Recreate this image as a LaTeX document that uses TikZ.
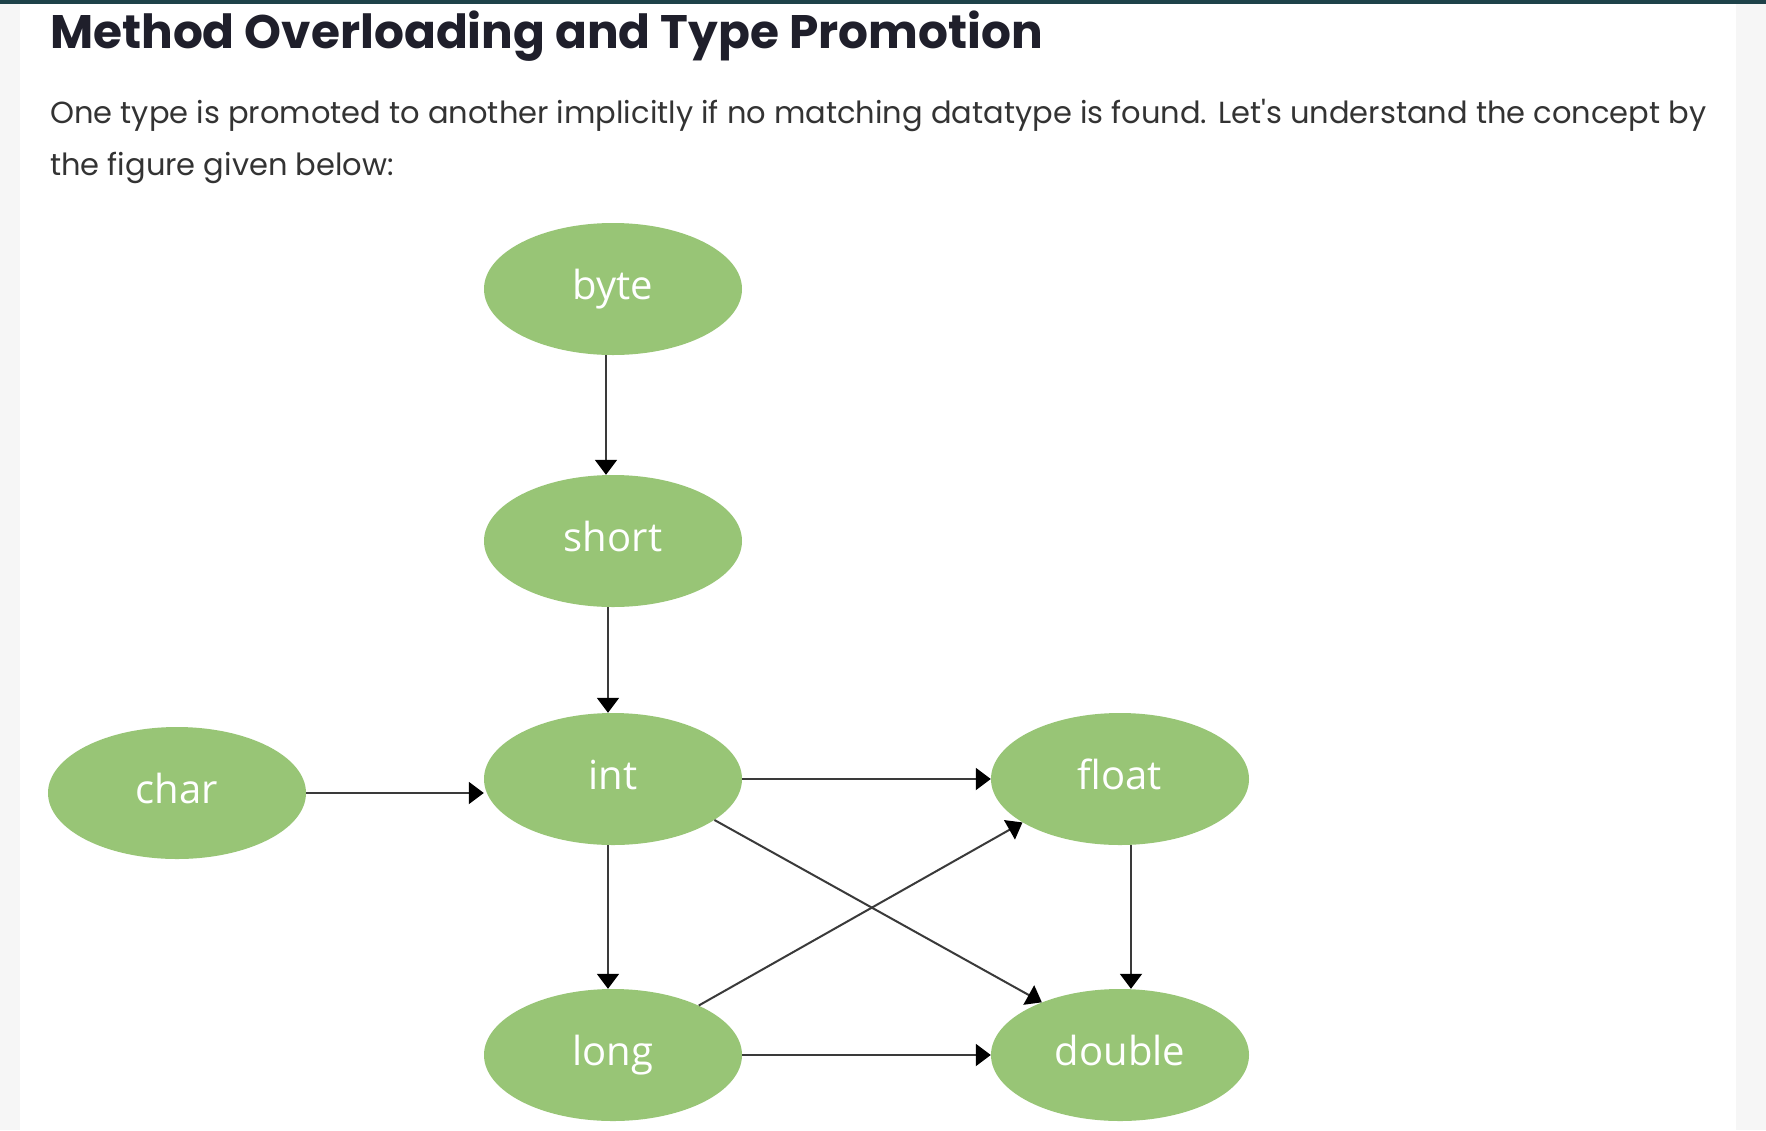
\documentclass[tikz,border=0pt]{standalone}
\usepackage{fontspec}
\setmainfont{Poppins}
\newfontfamily\diagfont{Open Sans}
\usepackage{xcolor}
\usetikzlibrary{arrows.meta,shapes.geometric}
\definecolor{typegreen}{HTML}{98C576}
\definecolor{linegray}{HTML}{3A3A3A}
\definecolor{titleink}{HTML}{1F1F2B}
\definecolor{bodyink}{HTML}{333333}
\definecolor{pagegray}{HTML}{F6F6F6}
\definecolor{barteal}{HTML}{1E4249}
\newcommand{\straightquote}{{\XeTeXglyph\XeTeXcharglyph"27}}
\tikzset{
  typenode/.style={ellipse, fill=typegreen, text=white, minimum width=258pt,
    minimum height=132pt, inner sep=0pt, text height=30pt, text depth=10pt,
    font=\diagfont\fontsize{40}{44}\selectfont},
  arr/.style={-{Triangle[length=15pt,width=22pt,color=black]}, line width=2pt, draw=linegray},
  heading/.style={anchor=base west, inner sep=0pt, text=titleink,
    font=\bfseries\fontsize{47}{56}\selectfont},
  bodytext/.style={anchor=base west, inner sep=0pt, text=bodyink,
    font=\fontsize{30.5}{52}\selectfont}
}
\begin{document}
\begin{tikzpicture}[x=1pt, y=-1pt]
  % page and card
  \fill[pagegray] (0,0) rectangle (1766,1130);
  \fill[white] (20,4) rectangle (1736,1130);
  \fill[barteal] (0,0) rectangle (1766,4);
  \useasboundingbox (0,0) rectangle (1766,1130);

  \node[heading] (title) at (50,48) {Method Overloading and Type Promotion};
  \node[bodytext] (line1) at (50,123)
    {One type is promoted to another implicitly if no matching datatype is found. Let\straightquote s understand the concept by};
  \node[bodytext] (line2) at (50,175) {the figure given below:};

  % types
  \node[typenode] (byte)   at (613,289)  {byte};
  \node[typenode] (short)  at (613,541)  {short};
  \node[typenode] (int)    at (613,779)  {int};
  \node[typenode] (char)   at (177,793)  {char};
  \node[typenode] (float)  at (1120,779) {float};
  \node[typenode] (long)   at (613,1055) {long};
  \node[typenode] (double) at (1120,1055) {double};

  % promotions
  \draw[arr] ([xshift=-7pt]byte.south) -- ([xshift=-7pt]short.north);
  \draw[arr] ([xshift=-5pt]short.south) -- ([xshift=-5pt]int.north);
  \draw[arr] (char.east) -- (char.east -| int.west);
  \draw[arr] (int.east) -- (float.west);
  \draw[arr] ([xshift=-5pt]int.south) -- ([xshift=-5pt]long.north);
  \draw[arr] ([xshift=11pt]float.south) -- ([xshift=11pt]double.north);
  \draw[arr] (long.east) -- (double.west);
  \draw[arr] (int.-22) -- (double.146);
  \draw[arr] (long.30) -- (float.204);
\end{tikzpicture}
\end{document}
